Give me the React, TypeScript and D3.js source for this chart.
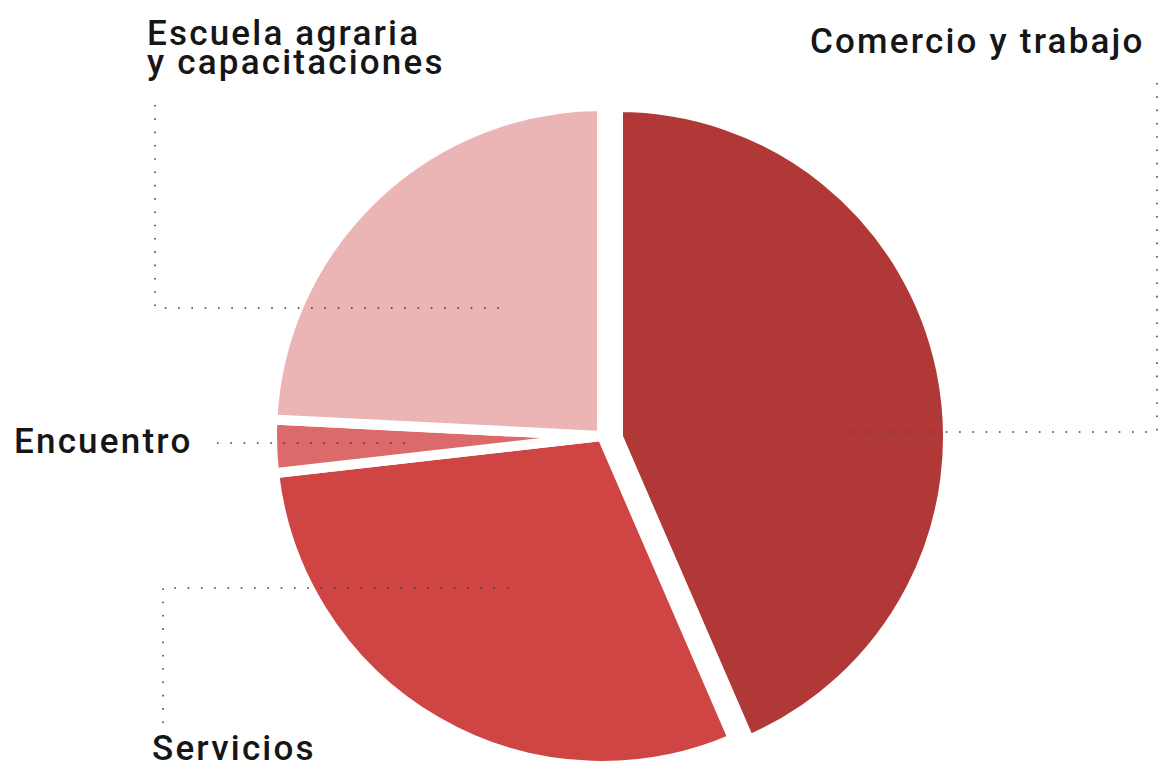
import React from "react";
import * as d3 from "d3";

const categories = ["Comercio y trabajo", "Servicios", "Encuentro", "Escuela agraria y capacitaciones"];
const values = [43.5, 29.7, 2.6, 24.2];
const colors = ["#b03837", "#cf4543", "#dc6a6a", "#ebb5b6"];

const W = 1160;
const H = 767;
const CX = 602;
const CY = 436;
const R = 330;
const GAP = 10;
const COMERCIO_SHIFT = { dx: 16, dy: 1 };

type Label = { lines: string[]; x: number; y: number };
const labels: Label[] = [
  { lines: ["Comercio y trabajo"], x: 810, y: 53 },
  { lines: ["Servicios"], x: 152, y: 760 },
  { lines: ["Encuentro"], x: 14, y: 453 },
  { lines: ["Escuela agraria", "y capacitaciones"], x: 147, y: 45 },
];

const leaders: [number, number][][] = [
  [[1157, 83], [1157, 432], [845, 432]],
  [[163, 723], [163, 588], [517, 588]],
  [[217, 443], [407, 443]],
  [[155, 105], [155, 308], [510, 308]],
];

export default function App() {
  const pie = d3.pie<number>().sort(null).value((d) => d);
  const arcs = pie(values);
  const arc = d3.arc<d3.PieArcDatum<number>>().innerRadius(0).outerRadius(R);
  const line = d3.line();

  return (
    <div style={{ position: "absolute", left: 0, top: 0 }}>
      <svg width={W} height={H} style={{ display: "block", background: "#fff" }}>
        <g transform={`translate(${CX},${CY})`}>
          {arcs.map((a, i) => {
            const dx = i === 0 ? COMERCIO_SHIFT.dx : 0;
            const dy = i === 0 ? COMERCIO_SHIFT.dy : 0;
            return (
              <path
                key={categories[i]}
                d={arc(a) || ""}
                fill={colors[i]}
                stroke="#fff"
                strokeWidth={GAP}
                strokeLinejoin="miter"
                transform={`translate(${dx},${dy})`}
              />
            );
          })}
        </g>
        {leaders.map((pts, i) => (
          <path
            key={i}
            d={line(pts) || ""}
            fill="none"
            stroke="#3a3a3a"
            strokeOpacity={0.75}
            strokeWidth={2}
            strokeDasharray="1.6 11.7"
          />
        ))}
        {labels.map((l, i) => (
          <text
            key={i}
            x={l.x}
            y={l.y}
            fontFamily="Roboto, 'Noto Sans', sans-serif"
            fontSize={35}
            fontWeight={500}
            letterSpacing={2.2}
            fill="#161616"
          >
            {l.lines.map((t, j) => (
              <tspan key={j} x={l.x} dy={j === 0 ? 0 : 29}>
                {t}
              </tspan>
            ))}
          </text>
        ))}
      </svg>
    </div>
  );
}
